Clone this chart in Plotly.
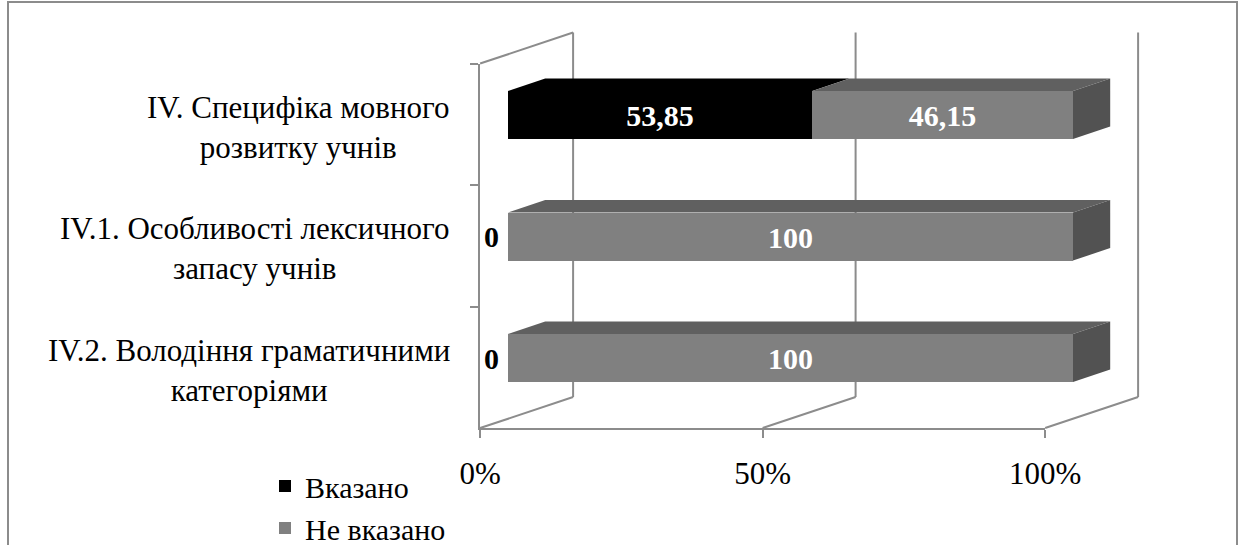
import plotly.graph_objects as go

# ---- data ----
categories = ["IV. Специфіка мовного<br>розвитку учнів",
              "IV.1. Особливості лексичного<br>запасу учнів",
              "IV.2. Володіння граматичними<br>категоріями"]
series_names = ["Вказано", "Не вказано"]
vals_indicated = [53.85, 0, 0]
vals_not_indicated = [46.15, 100, 100]
x_ticks = [0, 50, 100]
x_ticklabels = ["0%", "50%", "100%"]

# ---- geometry (pixel layout of the pseudo-3D box) ----
W, H = 1245, 545
K = 5.65          # px per percent
S = 121.5         # px per category
X0PX = 508        # px of 0% on the bar front plane
C0PX = 115        # px of first category centre on the bar front plane
DEPTH = (93, -31) # px shift from box front to box back
D_FRONT, D_BACK = 0.3, 0.7
BAR_W = 48 / S

DX = DEPTH[0] / K
DY = DEPTH[1] / S

def proj(xv, yv, d):
    return xv + DX * (d - D_FRONT), yv + DY * (d - D_FRONT)

def px_to_paper_x(p):
    return p / W

def px_to_paper_y(p):
    return 1 - p / H

GRID = "#8c8c8c"
BLACK = "#000000"
GRAY = "#808080"
GRAY_TOP = "#606060"
GRAY_SIDE = "#525252"
FONT = "Liberation Serif, Times New Roman, serif"
FS = 31
FS_LEG = 30

fig = go.Figure()
ypos = list(range(len(categories)))

def fmt(v):
    return f"{v:g}".replace(".", ",")

fig.add_trace(go.Bar(
    y=ypos, x=vals_indicated, orientation="h", name=series_names[0],
    width=BAR_W, marker=dict(color=BLACK, line=dict(width=0)),
    text=[(fmt(v) if v else "") for v in vals_indicated],
    textposition="inside", insidetextanchor="middle", constraintext="none",
    textfont=dict(family=FONT, size=30, color="white", weight="bold"),
    hoverinfo="skip"))
fig.add_trace(go.Bar(
    y=ypos, x=vals_not_indicated, orientation="h", name=series_names[1],
    width=BAR_W, marker=dict(color=GRAY, line=dict(width=0)),
    text=[(fmt(v) if v else "") for v in vals_not_indicated],
    textposition="inside", insidetextanchor="middle", constraintext="none",
    textfont=dict(family=FONT, size=30, color="white", weight="bold"),
    hoverinfo="skip"))

# dummy trace for the front-plane axes
fig.add_trace(go.Scatter(x=[50] * len(categories), y=categories, xaxis="x2", yaxis="y2",
                         mode="markers", marker=dict(opacity=0), showlegend=False,
                         hoverinfo="skip"))

shapes = []
y_top, y_bot = -0.5, len(categories) - 0.5
for t in x_ticks:
    bx, by_t = proj(t, y_top, 1)
    _, by_b = proj(t, y_bot, 1)
    shapes.append(dict(type="line", xref="x", yref="y", x0=bx, x1=bx, y0=by_t, y1=by_b,
                       line=dict(color=GRID, width=2), layer="below"))
    fx, fy = proj(t, y_bot, 0)
    shapes.append(dict(type="line", xref="x", yref="y", x0=fx, y0=fy, x1=bx, y1=by_b,
                       line=dict(color=GRID, width=2), layer="below"))
fx, fy = proj(0, y_top, 0)
bx, by = proj(0, y_top, 1)
shapes.append(dict(type="line", xref="x", yref="y", x0=fx, y0=fy, x1=bx, y1=by,
                   line=dict(color=GRID, width=2), layer="below"))

def poly(pts):
    return "M " + " L ".join(f"{a:.4f},{b:.4f}" for a, b in pts) + " Z"

for i in ypos:
    base = 0
    yt = i - BAR_W / 2
    yb = i + BAR_W / 2
    for v, col in ((vals_indicated[i], BLACK), (vals_not_indicated[i], GRAY_TOP)):
        if v > 0:
            pts = [proj(base, yt, D_FRONT), proj(base + v, yt, D_FRONT),
                   proj(base + v, yt, D_BACK), proj(base, yt, D_BACK)]
            shapes.append(dict(type="path", xref="x", yref="y", path=poly(pts),
                               fillcolor=col, line=dict(width=0), layer="above"))
        base += v
    pts = [proj(base, yt, D_FRONT), proj(base, yb, D_FRONT),
           proj(base, yb, D_BACK), proj(base, yt, D_BACK)]
    shapes.append(dict(type="path", xref="x", yref="y", path=poly(pts),
                       fillcolor=GRAY_SIDE, line=dict(width=0), layer="above"))

shapes.append(dict(type="rect", xref="paper", yref="paper",
                   x0=px_to_paper_x(8), x1=px_to_paper_x(1237),
                   y0=-0.05, y1=px_to_paper_y(2),
                   line=dict(color=GRID, width=2)))

annotations = []
for c in categories:
    annotations.append(dict(xref="paper", yref="y2", x=px_to_paper_x(452), y=c, yshift=-3,
                            text=c, showarrow=False, xanchor="right", yanchor="middle",
                            align="center", font=dict(family=FONT, size=FS, color="black")))
for i, v in enumerate(vals_indicated):
    if v == 0:
        annotations.append(dict(xref="x", yref="y", x=0, y=i, xshift=-17, text=fmt(v),
                                showarrow=False, xanchor="center", yanchor="middle",
                                font=dict(family=FONT, size=30, color="black", weight="bold")))

xr_px = (440, 1160)
yr_px = (10, 440)
front_x0 = X0PX - DEPTH[0] * D_FRONT
front_c0 = C0PX - DEPTH[1] * D_FRONT
y2_top_px = front_c0 - 0.5 * S
y2_bot_px = front_c0 + (len(categories) - 0.5) * S

fig.update_layout(
    template="none",
    width=W, height=H, margin=dict(l=0, r=0, t=0, b=0, pad=0, autoexpand=False),
    paper_bgcolor="white", plot_bgcolor="rgba(0,0,0,0)",
    barmode="stack", bargap=0,
    font=dict(family=FONT, size=FS, color="black"),
    xaxis=dict(domain=[px_to_paper_x(xr_px[0]), px_to_paper_x(xr_px[1])],
               range=[(xr_px[0] - X0PX) / K, (xr_px[1] - X0PX) / K],
               visible=False, anchor="y", automargin=False),
    yaxis=dict(domain=[px_to_paper_y(yr_px[1]), px_to_paper_y(yr_px[0])],
               range=[(yr_px[1] - C0PX) / S, (yr_px[0] - C0PX) / S],
               visible=False, anchor="x", automargin=False),
    xaxis2=dict(domain=[px_to_paper_x(front_x0), px_to_paper_x(front_x0 + 100 * K)],
                range=[0, 100], anchor="y2", tickmode="array", tickvals=x_ticks,
                ticktext=x_ticklabels, automargin=False,
                ticks="outside", ticklen=8, tickwidth=2, tickcolor=GRID,
                showline=True, linecolor=GRID, linewidth=2, showgrid=False, zeroline=False,
                tickfont=dict(family=FONT, size=FS, color="black"), ticklabelstandoff=9),
    yaxis2=dict(domain=[px_to_paper_y(y2_bot_px), px_to_paper_y(y2_top_px)],
                anchor="x2", type="category", categoryorder="array", categoryarray=categories,
                range=[len(categories) - 0.5, -0.5], autorange=False, automargin=False,
                tickson="boundaries", ticks="outside", ticklen=8, tickwidth=2,
                tickcolor=GRID, showline=True, linecolor=GRID, linewidth=2,
                showticklabels=False, showgrid=False, zeroline=False),
    legend=dict(x=px_to_paper_x(265), xanchor="left", y=px_to_paper_y(460), yanchor="top",
                font=dict(family=FONT, size=FS_LEG, color="black"), traceorder="normal",
                bgcolor="rgba(0,0,0,0)", borderwidth=0),
    showlegend=True,
    shapes=shapes, annotations=annotations,
)

fig.write_html("out.html")
